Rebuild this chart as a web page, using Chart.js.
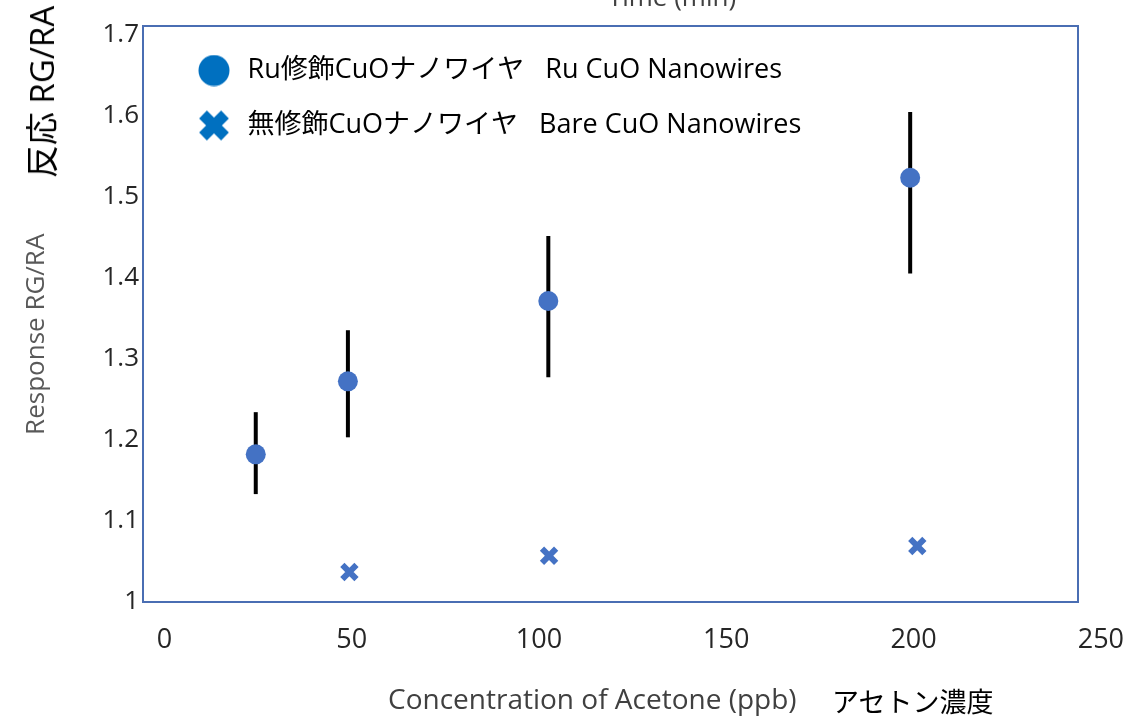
<!DOCTYPE html>
<html>
<head>
<meta charset="utf-8">
<script src="https://cdn.jsdelivr.net/npm/chart.js@4"></script>
<style>
html,body{margin:0;padding:0;background:#fff;}
#wrap{position:relative;width:1125px;height:718px;overflow:hidden;background:#fff;}
#c{position:absolute;left:0;top:0;}
.lbl{position:absolute;white-space:nowrap;line-height:1;}
#time{left:672px;top:-22px;transform:translateX(-50%);font:26px 'Open Sans',sans-serif;color:#404040;}
#jpY{left:40px;top:92px;transform:translate(-50%,-50%) rotate(-90deg);font:33px 'Open Sans','Noto Sans CJK JP',sans-serif;color:#000;}
#jpX{left:832px;top:681px;font:27px 'Noto Sans CJK JP',sans-serif;color:#000;}
</style>
</head>
<body>
<div id="wrap">
<canvas id="c" width="1125" height="718"></canvas>
<div class="lbl" id="time">Time (min)</div>
<div class="lbl" id="jpY">反応 RG/RA</div>
<div class="lbl" id="jpX">アセトン濃度</div>
</div>
<script>
// ---- data ----
const xTickValues = [0, 50, 100, 150, 200, 250];
const yTickValues = [1, 1.1, 1.2, 1.3, 1.4, 1.5, 1.6, 1.7];
const seriesLabels = ['Ru修飾CuOナノワイヤ   Ru CuO Nanowires', '無修飾CuOナノワイヤ   Bare CuO Nanowires'];
const ruConc = [24.4, 49, 102.5, 199.1];
const ruResp = [1.182, 1.272, 1.371, 1.523];
const ruLow  = [1.133, 1.203, 1.277, 1.405];
const ruHigh = [1.234, 1.335, 1.451, 1.604];
const bareConc = [49.4, 102.7, 201];
const bareResp = [1.037, 1.057, 1.069];
const xAxisTitle = 'Concentration of Acetone (ppb)';
const yAxisTitle = 'Response RG/RA';

// ---- styling ----
const markerBlue = '#4472C4';
const legendBlue = '#0070C0';
const frameBlue = '#4a6eb3';
const latin = "'Open Sans', 'Noto Sans CJK JP', sans-serif";

function makeIcon(kind, color) {
  const c = document.createElement('canvas');
  c.width = 32; c.height = 32;
  const g = c.getContext('2d');
  g.fillStyle = color; g.strokeStyle = color;
  if (kind === 'circle') {
    g.beginPath(); g.arc(16, 16, 15.5, 0, Math.PI * 2); g.fill();
  } else {
    g.lineWidth = 11;
    g.beginPath(); g.moveTo(5, 5); g.lineTo(27, 27); g.moveTo(27, 5); g.lineTo(5, 27); g.stroke();
  }
  return c;
}
const legendIcons = [makeIcon('circle', legendBlue), makeIcon('cross', legendBlue)];

const errorBars = {
  id: 'errorBars',
  beforeDatasetsDraw(chart) {
    const {ctx, scales: {x, y}} = chart;
    ctx.save();
    ctx.strokeStyle = '#000';
    ctx.lineWidth = 4;
    ctx.lineCap = 'butt';
    ruConc.forEach((c, i) => {
      const px = x.getPixelForValue(c);
      ctx.beginPath();
      ctx.moveTo(px, y.getPixelForValue(ruLow[i]));
      ctx.lineTo(px, y.getPixelForValue(ruHigh[i]));
      ctx.stroke();
    });
    ctx.restore();
  }
};

const frame = {
  id: 'frame',
  afterDatasetsDraw(chart) {
    const {ctx, chartArea: a} = chart;
    ctx.save();
    ctx.strokeStyle = frameBlue;
    ctx.lineWidth = 2;
    ctx.strokeRect(a.left, a.top, a.right - a.left, a.bottom - a.top);
    ctx.restore();
  }
};

const legendPlace = {
  id: 'legendPlace',
  afterLayout(chart) {
    const a = chart.chartArea;
    if (chart.legend) {
      chart.legend.left = a.left + 23;
      chart.legend.top = a.top + 3;
      chart.legend.bottom = a.bottom;
    }
  }
};

new Chart(document.getElementById('c'), {
  type: 'scatter',
  data: {
    datasets: [
      {
        label: seriesLabels[0],
        data: ruConc.map((x, i) => ({x, y: ruResp[i]})),
        pointStyle: 'circle',
        pointRadius: 10,
        pointBackgroundColor: markerBlue,
        pointBorderColor: markerBlue,
        pointBorderWidth: 0,
        showLine: false
      },
      {
        label: seriesLabels[1],
        data: bareConc.map((x, i) => ({x, y: bareResp[i]})),
        pointStyle: 'crossRot',
        pointRadius: 10,
        pointBackgroundColor: markerBlue,
        pointBorderColor: markerBlue,
        pointBorderWidth: 6,
        showLine: false
      }
    ]
  },
  options: {
    responsive: false,
    animation: false,
    devicePixelRatio: 1,
    layout: {padding: {top: 26, right: 47, bottom: 0, left: 0}},
    plugins: {
      tooltip: {enabled: false},
      legend: {
        position: 'chartArea',
        align: 'start',
        labels: {
          usePointStyle: true,
          pointStyleWidth: 40,
          boxHeight: 22,
          padding: 28,
          color: '#000',
          font: {family: latin, size: 27},
          generateLabels: (chart) => chart.data.datasets.map((ds, i) => ({
            text: ds.label,
            pointStyle: legendIcons[i],
            fillStyle: legendBlue,
            strokeStyle: legendBlue,
            lineWidth: 0,
            hidden: false,
            datasetIndex: i
          }))
        }
      }
    },
    scales: {
      x: {
        type: 'linear',
        min: -5.7,
        max: 243.9,
        bounds: 'data',
        afterBuildTicks: (s) => { s.ticks = xTickValues.map(v => ({value: v})); },
        afterFit: (s) => { s.height = 116; s.paddingLeft = 0; s.paddingRight = 0; },
        grid: {display: false, drawTicks: false},
        border: {display: false},
        ticks: {
          autoSkip: false, maxRotation: 0, padding: 22, color: '#262626',
          font: {family: latin, size: 27},
          callback: (v) => String(v)
        },
        title: {
          display: true, text: xAxisTitle + '     ', color: '#404040',
          font: {family: latin, size: 28}, padding: {top: 0, bottom: 0}
        }
      },
      y: {
        type: 'linear',
        min: 1,
        max: 1.71,
        bounds: 'data',
        afterBuildTicks: (s) => { s.ticks = yTickValues.map(v => ({value: v})); },
        afterFit: (s) => { s.width = 143; s.paddingTop = 0; s.paddingBottom = 0; },
        grid: {display: false, drawTicks: false},
        border: {display: false},
        ticks: {
          padding: 4, color: '#262626',
          font: {family: latin, size: 26},
          callback: (v) => String(v)
        },
        title: {
          display: true, text: yAxisTitle + '      ', color: '#595959',
          font: {family: latin, size: 26}, padding: {top: 21, bottom: 0}
        }
      }
    }
  },
  plugins: [errorBars, frame, legendPlace]
});
</script>
</body>
</html>
